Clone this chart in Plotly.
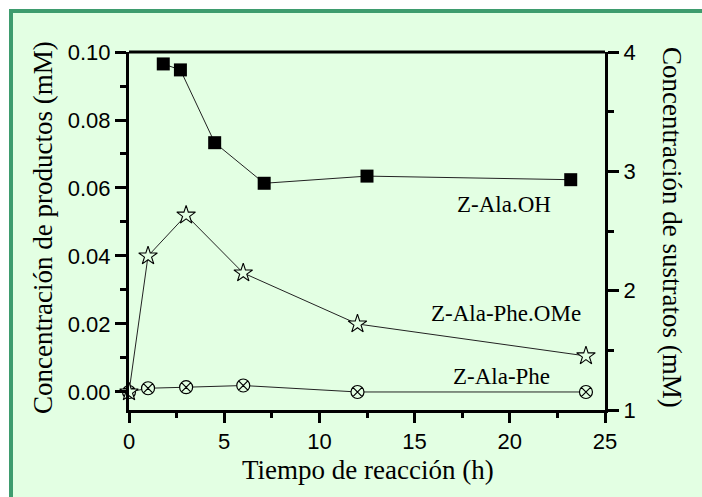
import plotly.graph_objects as go

# ---- data ----
t_oh = [1.8, 2.7, 4.5, 7.1, 12.5, 23.2]
z_ala_oh = [3.90, 3.85, 3.24, 2.90, 2.96, 2.93]          # right axis (sustratos)

t_prod = [0, 1, 3, 6, 12, 24]
z_ala_phe_ome = [0.0, 0.040, 0.052, 0.035, 0.020, 0.0106]  # left axis
z_ala_phe = [0.0, 0.0011, 0.0014, 0.0019, 0.0, 0.0]        # left axis

x_title = "Tiempo de reacción (h)"
y1_title = "Concentración de productos (mM)"
y2_title = "Concentración de sustratos (mM)"
labels = ["Z-Ala.OH", "Z-Ala-Phe.OMe", "Z-Ala-Phe"]

BG = "#E3FFE3"
BORDER = "#3E9C6E"
SERIF = "Liberation Serif, Times New Roman, serif"
SANS = "Liberation Sans, Arial, sans-serif"

W, H = 702, 497
L, R, T, B = 129, 97, 52, 87
pw, ph = W - L - R, H - T - B

def px(x):
    return (x - L) / pw

def py(y):
    return (H - B - y) / ph

fig = go.Figure()

fig.add_trace(go.Scatter(
    x=t_prod, y=z_ala_phe, mode="lines+markers", yaxis="y",
    line=dict(color="#222222", width=1),
    marker=dict(symbol="circle-x", size=13, color=BG,
                line=dict(color="black", width=1.2)),
    cliponaxis=False))

fig.add_trace(go.Scatter(
    x=t_prod, y=z_ala_phe_ome, mode="lines+markers", yaxis="y",
    line=dict(color="#222222", width=1),
    marker=dict(symbol="star", size=14, color=BG,
                line=dict(color="black", width=1.1)),
    cliponaxis=False))

fig.add_trace(go.Scatter(
    x=t_oh, y=z_ala_oh, mode="lines+markers", yaxis="y2",
    line=dict(color="#222222", width=1),
    marker=dict(symbol="square", size=13, color="black",
                line=dict(color="black", width=0)),
    cliponaxis=False))

axis_common = dict(showgrid=False, zeroline=False, showline=True,
                   linecolor="black", linewidth=3, ticks="outside",
                   tickcolor="black", tickwidth=2.5,
                   tickfont=dict(family=SANS, size=22, color="black"))

fig.update_layout(
    width=W, height=H,
    margin=dict(l=L, r=R, t=T, b=B),
    paper_bgcolor=BG, plot_bgcolor=BG,
    showlegend=False,
    xaxis=dict(range=[0, 25], tick0=0, dtick=5, ticklen=10,
               minor=dict(dtick=2.5, ticklen=5, ticks="outside",
                          tickcolor="black", tickwidth=2.5),
               **axis_common),
    yaxis=dict(range=[-0.0053, 0.10], tick0=0, dtick=0.02, tickformat=".2f",
               ticklen=11,
               minor=dict(dtick=0.01, tick0=0, ticklen=6, ticks="outside",
                          tickcolor="black", tickwidth=2.5),
               **axis_common),
    yaxis2=dict(range=[1, 4], tick0=1, dtick=1, ticklen=11, overlaying="y",
                side="right",
                minor=dict(dtick=0.5, tick0=1, ticklen=6, ticks="outside",
                           tickcolor="black", tickwidth=2.5),
                **axis_common),
)

shapes = []
# white margin outside the green frame
shapes.append(dict(type="rect", xref="paper", yref="paper",
                   x0=px(-5), x1=px(W + 5), y0=py(9), y1=py(-5),
                   fillcolor="white", line=dict(width=0), layer="below"))
shapes.append(dict(type="rect", xref="paper", yref="paper",
                   x0=px(-5), x1=px(9), y0=py(H + 5), y1=py(-5),
                   fillcolor="white", line=dict(width=0), layer="below"))
# green frame (left and top)
shapes.append(dict(type="rect", xref="paper", yref="paper",
                   x0=px(9), x1=px(W + 5), y0=py(13), y1=py(9),
                   fillcolor=BORDER, line=dict(width=0), layer="below"))
shapes.append(dict(type="rect", xref="paper", yref="paper",
                   x0=px(9), x1=px(13), y0=py(H + 5), y1=py(9),
                   fillcolor=BORDER, line=dict(width=0), layer="below"))
# top axis line
shapes.append(dict(type="line", xref="paper", yref="paper",
                   x0=0, x1=1, y0=1, y1=1,
                   line=dict(color="black", width=3)))
fig.update_layout(shapes=shapes)

ann = []
ann.append(dict(text=x_title, xref="paper", yref="paper",
                x=px(368), y=py(470), showarrow=False,
                xanchor="center", yanchor="middle",
                font=dict(family=SERIF, size=27, color="black")))
ann.append(dict(text=y1_title, xref="paper", yref="paper",
                x=px(43), y=py(228), showarrow=False, textangle=-90,
                xanchor="center", yanchor="middle",
                font=dict(family=SERIF, size=27, color="black")))
ann.append(dict(text=y2_title, xref="paper", yref="paper",
                x=px(672), y=py(227), showarrow=False, textangle=90,
                xanchor="center", yanchor="middle",
                font=dict(family=SERIF, size=27, color="black")))
for lab, (lx, ly) in zip(labels, [(504, 204), (506, 313), (501, 376)]):
    ann.append(dict(text=lab, xref="paper", yref="paper",
                    x=px(lx), y=py(ly), showarrow=False,
                    xanchor="center", yanchor="middle",
                    font=dict(family=SERIF, size=23, color="black")))
fig.update_layout(annotations=ann)

fig.write_html("out.html")
